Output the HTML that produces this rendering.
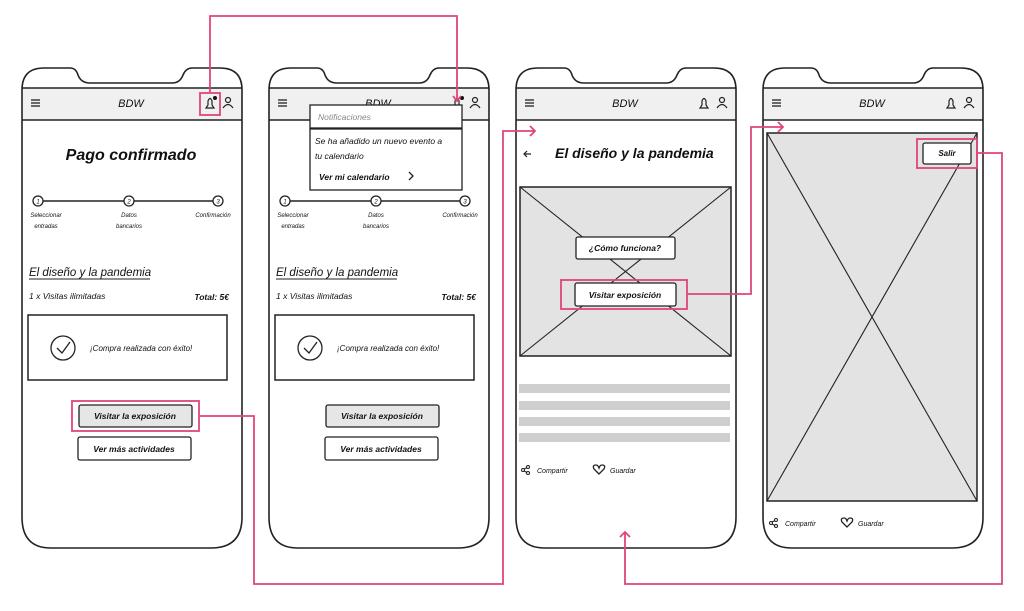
<!DOCTYPE html>
<html><head><meta charset="utf-8"><style>
html,body{margin:0;padding:0;background:#fff;width:1024px;height:611px;overflow:hidden}
text{font-family:"Liberation Sans",sans-serif;fill:#111}
.i{font-style:italic}
.b{font-weight:bold}
</style></head><body>
<svg width="1024" height="611" viewBox="0 0 1024 611" xmlns="http://www.w3.org/2000/svg">
<defs>
<g id="ph">
<path d="M2,53 L222,53 L222,21 L2,21 Z" fill="#f0f0f0"/>
<path d="M2,23 Q2,1 24,1 L50,1 Q56,1 58,8 Q61,16 70,16 L152,16 Q160,16 163,8 Q166,1 172,1 L200,1 Q222,1 222,23 L222,450 Q222,481 191,481 L31,481 Q2,481 2,450 Z" fill="none" stroke="#222" stroke-width="1.6"/>
<line x1="2" y1="21" x2="222" y2="21" stroke="#222" stroke-width="1.4"/>
<line x1="2" y1="53" x2="222" y2="53" stroke="#222" stroke-width="1.4"/>
<g stroke="#222" stroke-width="1.3"><line x1="11" y1="33" x2="20" y2="33"/><line x1="11" y1="36" x2="20" y2="36"/><line x1="11" y1="39" x2="20" y2="39"/></g>
<path d="M186,41 L194,41 L192,38 L192,34 Q190,29 188,34 L188,38 Z" fill="none" stroke="#222" stroke-width="1.2"/>
<circle cx="208" cy="33" r="2.5" fill="none" stroke="#222" stroke-width="1.2"/>
<path d="M203,41 Q208,34 213,41" fill="none" stroke="#222" stroke-width="1.2"/>
</g>
<g id="pay">
<text x="111" y="160" text-anchor="middle" class="b i" font-size="16">Pago confirmado</text>
<line x1="23" y1="201" x2="198" y2="201" stroke="#222" stroke-width="1.4"/>
<g fill="#fff" stroke="#222" stroke-width="1.3"><circle cx="18" cy="201" r="5"/><circle cx="109" cy="201" r="5"/><circle cx="198" cy="201" r="5"/></g>
<g font-size="6" class="i"><text x="18" y="203.5" text-anchor="middle">1</text><text x="109" y="203.5" text-anchor="middle">2</text><text x="198" y="203.5" text-anchor="middle">3</text>
<text x="26" y="217" text-anchor="middle">Seleccionar</text><text x="26" y="228" text-anchor="middle">entradas</text>
<text x="109" y="217" text-anchor="middle">Datos</text><text x="109" y="228" text-anchor="middle">bancarios</text>
<text x="193" y="217" text-anchor="middle">Confirmación</text></g>
<text x="9" y="276" class="i" font-size="11.5">El diseño y la pandemia</text>
<line x1="9" y1="279" x2="130" y2="279" stroke="#222"/>
<text x="9" y="299" class="i" font-size="8.5">1 x Visitas ilimitadas</text>
<text x="209" y="300" text-anchor="end" class="i b" font-size="8.5">Total: 5€</text>
<rect x="8" y="315" width="199" height="65" fill="none" stroke="#222" stroke-width="1.5"/>
<circle cx="43" cy="348" r="12" fill="none" stroke="#222" stroke-width="1.3"/>
<path d="M37,348 L42,353 L50,342" fill="none" stroke="#222" stroke-width="1.3"/>
<text x="70" y="351" class="i" font-size="8">¡Compra realizada con éxito!</text>
<rect x="59" y="405" width="113" height="22" rx="2" fill="#e6e6e6" stroke="#222" stroke-width="1.3"/>
<text x="115" y="419" text-anchor="middle" class="b i" font-size="8.5">Visitar la exposición</text>
<rect x="58" y="437" width="113" height="23" rx="2" fill="#fff" stroke="#222" stroke-width="1.3"/>
<text x="114" y="452" text-anchor="middle" class="b i" font-size="8.5">Ver más actividades</text>
</g>
<g id="sh">
<circle cx="0" cy="0" r="1.5" fill="none" stroke="#222"/><circle cx="5" cy="-3" r="1.5" fill="none" stroke="#222"/><circle cx="5" cy="3" r="1.5" fill="none" stroke="#222"/>
<path d="M1,-1 L4,-2.5 M1,1 L4,2.5" stroke="#222"/>
<text x="14" y="3" class="i" font-size="7">Compartir</text>
<path d="M76,4 L71,-1 Q69,-5 73,-5 Q75,-5 76,-2 Q77,-5 79,-5 Q83,-5 81,-1 Z" fill="none" stroke="#222" stroke-width="1.3"/>
<text x="87" y="3" class="i" font-size="7">Guardar</text>
</g>
</defs>

<g transform="translate(20,67)"><use href="#ph"/></g>
<g transform="translate(267,67)"><use href="#ph"/></g>
<g transform="translate(514,67)"><use href="#ph"/></g>
<g transform="translate(761,67)"><use href="#ph"/></g>
<g font-size="11" class="i">
<text x="131" y="107" text-anchor="middle">BDW</text>
<text x="378" y="107" text-anchor="middle">BDW</text>
<text x="625" y="107" text-anchor="middle">BDW</text>
<text x="872" y="107" text-anchor="middle">BDW</text>
</g>
<circle cx="215" cy="98" r="2" fill="#111"/><circle cx="462" cy="98" r="2" fill="#111"/>

<g transform="translate(20,0)"><use href="#pay"/></g>
<g transform="translate(267,0)"><use href="#pay"/></g>

<rect x="310" y="105" width="152" height="23" fill="#fff" stroke="#222" stroke-width="1.3"/>
<text x="318" y="120" class="i" font-size="8.5" style="fill:#888">Notificaciones</text>
<rect x="310" y="129" width="152" height="61" fill="#fff" stroke="#222" stroke-width="1.3"/>
<text x="315" y="144" class="i" font-size="8.5">Se ha añadido un nuevo evento a</text>
<text x="315" y="159" class="i" font-size="8.5">tu calendario</text>
<text x="319" y="180" class="i b" font-size="8.5">Ver mi calendario</text>
<path d="M409,172 L413,176 L409,180" fill="none" stroke="#222" stroke-width="1.3"/>

<path d="M531,154 L524,154 M527,151 L524,154 L527,157" fill="none" stroke="#222" stroke-width="1.2"/>
<text x="555" y="158" class="b i" font-size="14">El diseño y la pandemia</text>
<rect x="520" y="187" width="211" height="169" fill="#e3e3e4" stroke="#222" stroke-width="1.5"/>
<path d="M520,187 L731,356 M731,187 L520,356" stroke="#222" stroke-width="1.1"/>
<rect x="576" y="237" width="99" height="22" rx="2" fill="#fff" stroke="#222" stroke-width="1.3"/>
<text x="625" y="251" text-anchor="middle" class="b i" font-size="8.5">¿Cómo funciona?</text>
<rect x="575" y="283" width="101" height="23" rx="2" fill="#fff" stroke="#222" stroke-width="1.3"/>
<text x="625" y="298" text-anchor="middle" class="b i" font-size="8.5">Visitar exposición</text>
<g fill="#cfcfcf"><rect x="519" y="384" width="211" height="9"/><rect x="519" y="401" width="211" height="9"/><rect x="519" y="417" width="211" height="9"/><rect x="519" y="433" width="211" height="9"/></g>
<g transform="translate(523,470)"><use href="#sh"/></g>

<rect x="767" y="133" width="210" height="368" fill="#e3e3e4" stroke="#222" stroke-width="1.5"/>
<path d="M767,133 L977,501 M977,133 L767,501" stroke="#222" stroke-width="1.1"/>
<rect x="923" y="143" width="48" height="21" rx="2" fill="#fff" stroke="#222" stroke-width="1.3"/>
<text x="947" y="156" text-anchor="middle" class="b i" font-size="8">Salir</text>
<g transform="translate(771,523)"><use href="#sh"/></g>

<g fill="none" stroke="#e0457b" stroke-width="1.8">
<rect x="200" y="93" width="20" height="22"/>
<path d="M210,93 L210,16 L457,16 L457,101 M453,96 L457,101 L461,96"/>
<rect x="72" y="401" width="127" height="30"/>
<path d="M199,416 L254,416 L254,584 L503,584 L503,131 L535,131 M530,126 L535,131 L530,136"/>
<rect x="561" y="280" width="126" height="29"/>
<path d="M687,294 L751,294 L751,127 L783,127 M778,122 L783,127 L778,132"/>
<rect x="917" y="139" width="60" height="29"/>
<path d="M977,153 L1002,153 L1002,584 L625,584 L625,532 M620,537 L625,532 L630,537"/>
</g>
</svg>
</body></html>
